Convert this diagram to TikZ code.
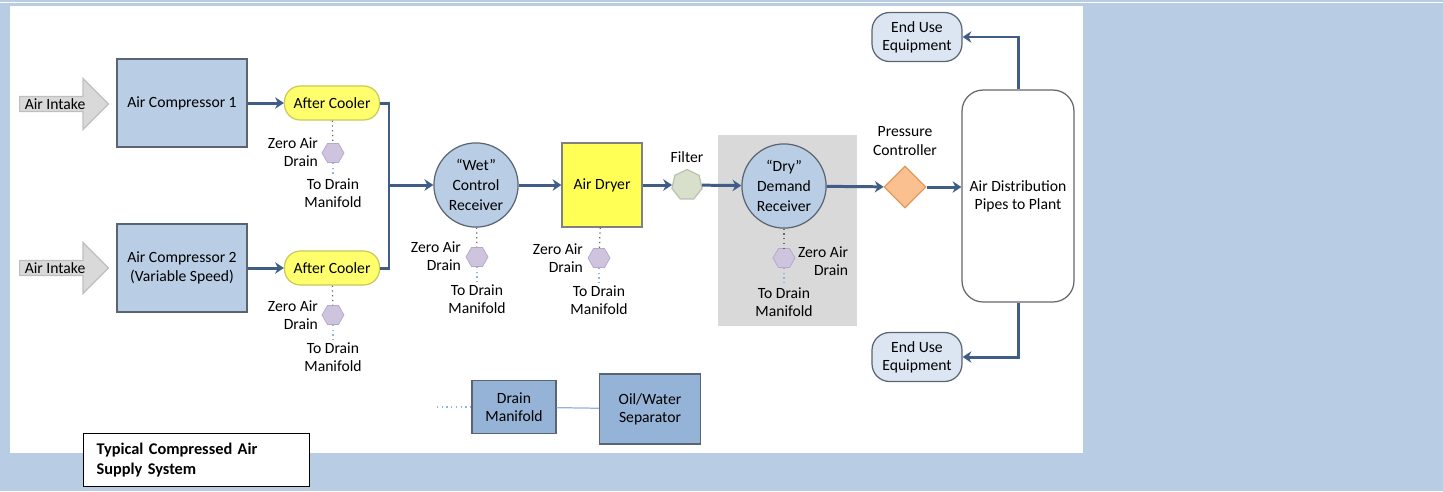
\documentclass[tikz,border=0pt]{standalone}
\usepackage{fontspec}
\setmainfont{Carlito}
\usepackage{tikz}
\usepackage{xcolor}
\usetikzlibrary{arrows.meta,shapes.geometric,shapes.arrows}

\definecolor{pageblue}{HTML}{B8CCE4}
\definecolor{panelgray}{HTML}{D9D9D9}
\definecolor{boxline}{HTML}{5A6472}
\definecolor{compblue}{HTML}{B9CDE5}
\definecolor{coolyellow}{HTML}{FFFF6E}
\definecolor{coolline}{HTML}{C9C95A}
\definecolor{dryyellow}{HTML}{FFFF55}
\definecolor{hexfill}{HTML}{CFC4DE}
\definecolor{hexline}{HTML}{B4A7CB}
\definecolor{filterfill}{HTML}{D8DFCB}
\definecolor{filterline}{HTML}{BAC2AE}
\definecolor{valvefill}{HTML}{FAC090}
\definecolor{valveline}{HTML}{E09A5C}
\definecolor{enduse}{HTML}{DCE6F2}
\definecolor{drainblue}{HTML}{95B3D7}
\definecolor{pipeblue}{HTML}{3F5D86}
\definecolor{wetline}{HTML}{8EB4E3}
\definecolor{intakegray}{HTML}{D9D9D9}
\definecolor{intakeline}{HTML}{BFBFBF}

\begin{document}
\begin{tikzpicture}[x=0.02cm,y=-0.02cm,font=\fontsize{8.9}{10.4}\selectfont]
                % page and panels
                \fill[pageblue] (0,0) rectangle (1443,491);
                \useasboundingbox (0,0) rectangle (1443,491);
                \draw[white,line width=0.8pt] (0,2.5) -- (1443,2.5);
                \fill[white] (10,6) rectangle (1083,453);
                \fill[panelgray] (718,135) rectangle (857,326);

                \begin{scope}[every node/.style={draw=boxline, line width=0.7pt, align=center, inner sep=2pt}]
                    \node[single arrow, draw=intakeline, fill=intakegray, single arrow head extend=0.36cm,
                          minimum height=1.78cm, inner xsep=1.5pt, inner ysep=0.8pt, anchor=tail] (IN1) at (19,104) {Air Intake\hspace{6pt}};
                    \node[single arrow, draw=intakeline, fill=intakegray, single arrow head extend=0.36cm,
                          minimum height=1.78cm, inner xsep=1.5pt, inner ysep=0.8pt, anchor=tail] (IN2) at (19,268) {Air Intake\hspace{6pt}};
                    \node[fill=compblue, minimum width=2.6cm, minimum height=1.76cm] (AC1) at (182,103) {Air Compressor 1};
                    \node[fill=compblue, minimum width=2.6cm, minimum height=1.76cm] (AC2) at (182,268) {Air Compressor 2\\(Variable Speed)};
                    \node[draw=coolline, fill=coolyellow, rounded corners=9pt, minimum width=1.9cm, minimum height=0.68cm] (CO1) at (332,103) {After Cooler};
                    \node[draw=coolline, fill=coolyellow, rounded corners=9pt, minimum width=1.9cm, minimum height=0.68cm] (CO2) at (332,268) {After Cooler};
                    \node[circle, fill=compblue, minimum size=1.62cm, font=\fontsize{8.9}{11.3}\selectfont] (WR) at (476,185) {“Wet”\\Control\\Receiver};
                    \node[fill=dryyellow, draw=gray, minimum width=1.6cm, minimum height=1.68cm] (AD) at (602,185) {Air Dryer};
                    \node[regular polygon, regular polygon sides=7, draw=filterline, fill=filterfill, minimum size=0.62cm, inner sep=0pt] (F) at (687,185) {};
                    \node[circle, fill=compblue, minimum size=1.64cm, font=\fontsize{8.9}{11.3}\selectfont] (DR) at (784,186) {“Dry”\\Demand\\Receiver};
                    \node[diamond, aspect=1, draw=valveline, fill=valvefill, minimum width=0.84cm, minimum height=0.84cm, inner sep=0pt] (PC) at (905,187) {};
                    \node[fill=white, draw=gray!80!black, rounded corners=12pt, minimum width=2.24cm, minimum height=4.24cm] (AP) at (1018,196) {Air Distribution\\Pipes to Plant};
                    \node[fill=enduse, rounded corners=10pt, minimum width=1.8cm, minimum height=0.98cm] (EU1) at (917,37) {End Use\\Equipment};
                    \node[fill=enduse, rounded corners=10pt, minimum width=1.8cm, minimum height=0.98cm] (EU2) at (917,357) {End Use\\Equipment};
                    \node[fill=drainblue, minimum width=1.68cm, minimum height=1.06cm] (DM) at (514,407) {Drain\\Manifold};
                    \node[fill=drainblue, minimum width=2.02cm, minimum height=1.4cm] (OWS) at (650,409) {Oil/Water\\Separator};
                \end{scope}

                % drains
                \begin{scope}[every node/.style={regular polygon, regular polygon sides=6, draw=hexline, fill=hexfill, minimum size=0.44cm, inner sep=0pt}]
                    \node (H1) at (333,153) {};
                    \node (H2) at (333,315) {};
                    \node (H3) at (477,257) {};
                    \node (H4) at (599,258) {};
                    \node (H5) at (784,258) {};
                \end{scope}

                % labels
                \begin{scope}[every node/.style={align=center, inner sep=1pt}]
                    \node[anchor=east, align=right] (ZA1) at (320,152) {Zero Air\\Drain};
                    \node[anchor=east, align=right] (ZA2) at (320,315) {Zero Air\\Drain};
                    \node[anchor=east, align=right] (ZA3) at (463,256) {Zero Air\\Drain};
                    \node[anchor=east, align=right] (ZA4) at (585,258) {Zero Air\\Drain};
                    \node[anchor=west, align=right] (ZA5) at (796,261) {Zero Air\\Drain};
                    \node (TD1) at (333,193) {To Drain\\Manifold};
                    \node (TD2) at (333,357) {To Drain\\Manifold};
                    \node (TD3) at (477,299) {To Drain\\Manifold};
                    \node (TD4) at (599,300) {To Drain\\Manifold};
                    \node (TD5) at (784,302) {To Drain\\Manifold};
                    \node (FL) at (687,157) {Filter};
                    \node (PL) at (905,141) {Pressure\\Controller};
                \end{scope}

                \node[draw=black, fill=white, line width=0.6pt, anchor=north west, text width=4.0cm, inner xsep=7.4pt,
                      minimum height=1.06cm, align=left, font=\bfseries\fontsize{9.3}{11.3}\selectfont] (TT) at (83,433)
                      {Typical Compressed Air\\Supply System};

                \coordinate (J) at (389,185);
                \coordinate (DMin) at (437,407);

                % drain lines
                \begin{scope}[line width=0.7pt]
                    \draw[dotted, gray!80!black] (CO1) -- (H1);
                    \draw[dotted, gray!80!black] (CO2) -- (H2);
                    \draw[dotted, gray!80!black] (WR) -- (H3);
                    \draw[dotted, gray!80!black] (AD) -- (H4);
                    \draw[dotted, gray!80!black] (DR) -- (H5);
                    \draw[dotted, wetline] (H1) -- (TD1);
                    \draw[dotted, wetline] (H2) -- (TD2);
                    \draw[dotted, wetline] (H3) -- (TD3);
                    \draw[dotted, wetline] (H4) -- (TD4);
                    \draw[dotted, wetline] (H5) -- (TD5);
                    \draw[dotted, wetline] (DMin) -- (DM);
                    \draw[wetline] (DM) -- (OWS);
                \end{scope}

                % air pipes
                \begin{scope}[>={Stealth[length=5pt,width=6.5pt]}, every edge/.style={draw=pipeblue, line width=1.7pt}]
                    \path [->] (AC1) edge (CO1);
                    \path [->] (AC2) edge (CO2);
                    \draw [pipeblue, line width=1.7pt] (CO1.east) -| (J);
                    \draw [pipeblue, line width=1.7pt] (CO2.east) -| (J);
                    \path [->] (J) edge (WR);
                    \path [->] (WR) edge (AD);
                    \path [->] (AD) edge (F);
                    \path [->] (F) edge (DR);
                    \path [->] (DR) edge (PC);
                    \path [->] (PC) edge (AP.west |- PC);
                    \draw [->, pipeblue, line width=1.7pt] (AP.north) |- (EU1.east);
                    \draw [->, pipeblue, line width=1.7pt] (AP.south) |- (EU2.east);
                \end{scope}
            \end{tikzpicture}
\end{document}
